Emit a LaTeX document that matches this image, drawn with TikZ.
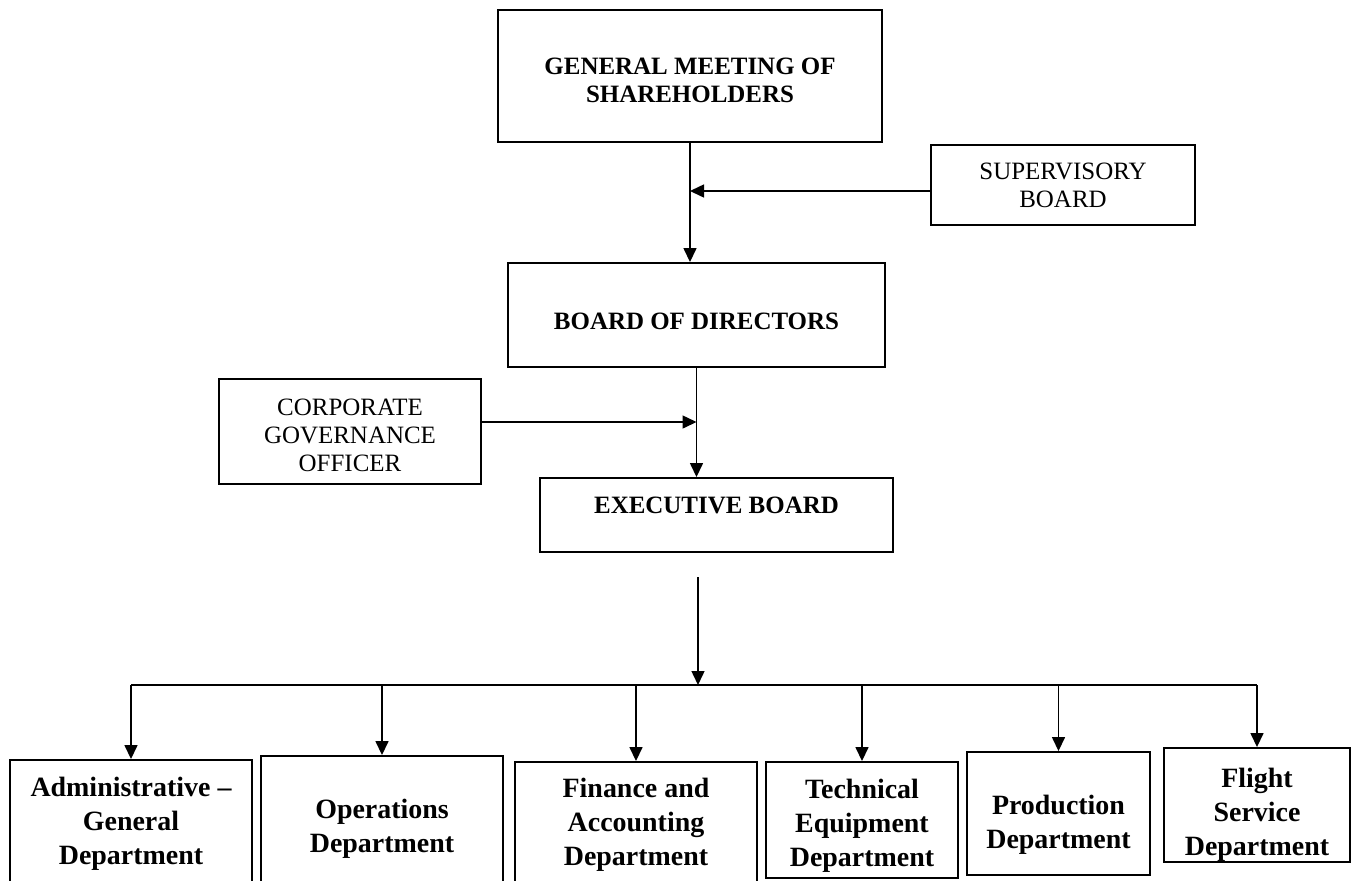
\documentclass[tikz,border=0pt]{standalone}
\usepackage{fontspec}
\setmainfont{Liberation Serif}
\usetikzlibrary{arrows.meta}

\begin{document}
\begin{tikzpicture}[x=0.02cm,y=-0.02cm,
  topbox/.style={draw, line width=1.1pt, align=center, inner sep=0pt, font=\fontsize{14.2}{15.9}\selectfont},
  deptbox/.style={draw, line width=1.1pt, align=center, inner sep=0pt, text depth=0cm, font=\fontsize{15.9}{19.4}\selectfont\bfseries},
  arr/.style={line width=0.85pt, -{Triangle[length=0.28cm,width=0.26cm]}},
  busline/.style={line width=0.85pt}]
\useasboundingbox (0,0) rectangle (1357,880);

% upper boxes
\node[topbox, font=\fontsize{14.2}{15.9}\selectfont\bfseries, text height=1.05cm, minimum width=7.68cm, minimum height=2.64cm] (gm) at (690,76) {GENERAL MEETING OF\\SHAREHOLDERS};
\node[topbox, minimum width=5.28cm, minimum height=1.6cm] (sup) at (1063,185) {SUPERVISORY\\BOARD};
\node[topbox, font=\fontsize{14.2}{15.9}\selectfont\bfseries, text height=0.57cm, minimum width=7.54cm, minimum height=2.08cm] (bod) at (696.5,315) {BOARD OF DIRECTORS};
\node[topbox, text height=1.61cm, minimum width=5.24cm, minimum height=2.1cm] (cgo) at (350,431.5) {CORPORATE\\GOVERNANCE\\OFFICER};
\node[topbox, font=\fontsize{14.2}{15.9}\selectfont\bfseries, text depth=0.38cm, minimum width=7.06cm, minimum height=1.48cm] (exec) at (716.5,515) {EXECUTIVE BOARD};

% departments
\node[deptbox, minimum width=4.84cm, minimum height=2.44cm] (d1) at (131,821) {Administrative --\\General\\Department};
\node[deptbox, text height=1.33cm, minimum width=4.84cm, minimum height=2.52cm] (d2) at (382,819) {Operations\\Department};
\node[deptbox, minimum width=4.84cm, minimum height=2.4cm] (d3) at (636,822) {Finance and\\Accounting\\Department};
\node[deptbox, text height=1.87cm, minimum width=3.84cm, minimum height=2.32cm] (d4) at (862,820) {Technical\\Equipment\\Department};
\node[deptbox, text height=1.39cm, minimum width=3.66cm, minimum height=2.46cm] (d5) at (1058.5,813.5) {Production\\Department};
\node[deptbox, text height=2.01cm, minimum width=3.72cm, minimum height=2.28cm] (d6) at (1257,805) {Flight\\Service\\Department};

% connectors
\draw[arr] (gm.south) -- (gm.south |- bod.north);
\draw[arr] ([yshift=-0.12cm]sup.west) -- ([yshift=-0.12cm]sup.west -| gm.south);
\draw[arr] (bod.south) -- (bod.south |- exec.north);
\draw[arr] ([yshift=0.19cm]cgo.east) -- ([yshift=0.19cm]cgo.east -| bod.south);

\coordinate (fork) at (698,577);
\coordinate (bus) at (698,685);
\draw[arr] (fork) -- (bus);
\draw[busline] (d1.north |- bus) -- (d6.north |- bus);
\foreach \i in {1,...,6}
  \draw[arr] (d\i.north |- bus) -- (d\i.north);
\end{tikzpicture}
\end{document}
